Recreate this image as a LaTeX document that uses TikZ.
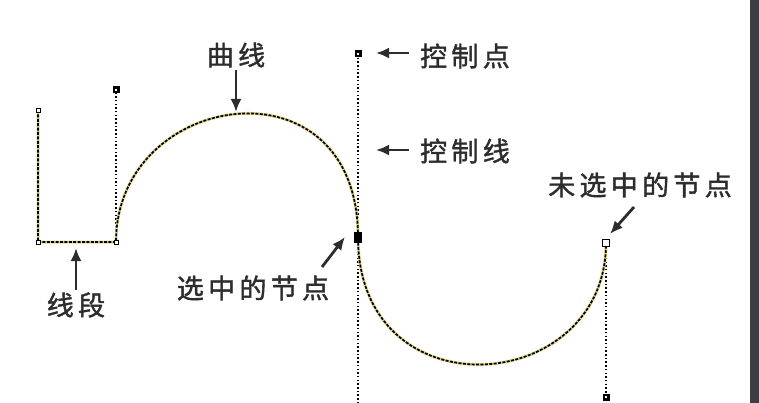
\documentclass[tikz,border=0pt]{standalone}
\usepackage{fontspec}
\newfontfamily\cjk[LetterSpace=16,FakeBold=1.5]{Noto Sans CJK SC}
\usepackage{tikz}
\usetikzlibrary{arrows.meta}
\definecolor{barcolor}{RGB}{60,62,68}
\definecolor{textcolor}{RGB}{45,45,45}
\definecolor{pathyellow}{RGB}{225,216,150}
\tikzset{
    seg under/.style={line width=3pt, draw=pathyellow},
    seg/.style={line width=1.7pt, dash pattern=on 3pt off 1.4pt},
    ctrl line/.style={line width=1.2pt, dash pattern=on 1.5pt off 2.2pt},
    ctrl pt/.style={shape=rectangle, draw=black, fill=white, line width=2.6pt, minimum size=4.4pt, inner sep=0pt},
    sel node/.style={shape=rectangle, fill=black, minimum width=8pt, minimum height=11pt, inner sep=0pt},
    free node/.style={shape=rectangle, draw=black, fill=white, line width=1.2pt, minimum size=6.5pt, inner sep=0pt},
    end node/.style={shape=rectangle, draw=black, fill=white, line width=0.8pt, minimum size=4pt, inner sep=0pt},
    lbl/.style={text=textcolor, font=\cjk\fontsize{27}{30}\selectfont, inner sep=2pt},
    lbl arrow/.style={-{Latex[length=13pt,width=11pt]}, line width=2.8pt, draw=textcolor}}

\begin{document}
\begin{tikzpicture}[x=1pt, y=-1pt]

            \clip (0,0) rectangle (759,403);
            \fill[white] (0,0) rectangle (759,403);
            \fill[barcolor] (750,0) rectangle (759,403);

            \coordinate (P1) at (38,110);
            \coordinate (P2) at (38,242);
            \coordinate (P3) at (116,242);
            \coordinate (P4) at (358,237);
            \coordinate (P5) at (606,243);
            \coordinate (K1) at (116,90);
            \coordinate (K2) at (358,54);
            \coordinate (K3) at (358,415);
            \coordinate (K4) at (606,397);

            \draw[ctrl line] (P3) -- (K1);
            \draw[ctrl line] (K2) -- (P4) -- (K3);
            \draw[ctrl line] (P5) -- (K4);

            \draw[seg under] (P1) -- (P2) -- (P3) .. controls (K1) and (K2) .. (P4) .. controls (K3) and (K4) .. (P5);
            \draw[seg] (P1) -- (P2) -- (P3) .. controls (K1) and (K2) .. (P4) .. controls (K3) and (K4) .. (P5);

            \node[end node] (N1) at (P1) {};
            \node[end node] (N2) at (P2) {};
            \node[end node] (N3) at (P3) {};
            \node[sel node] (N4) at (P4) {};
            \node[free node] (N5) at (P5) {};
            \node[ctrl pt] (C1) at (K1) {};
            \node[ctrl pt] (C2) at (K2) {};
            \node[ctrl pt] (C4) at (K4) {};

            \node[lbl] (Lqx) at (236,55) {曲线};
            \node[lbl] (Lkzd) at (465,56) {控制点};
            \node[lbl] (Lkzx) at (465,151) {控制线};
            \node[lbl] (Lxz) at (253,288) {选中的节点};
            \node[lbl] (Lwxz) at (640,185) {未选中的节点};
            \node[lbl] (Lxd) at (76,305) {线段};

            \coordinate (Tqx) at (236,112);
            \coordinate (Tkzd) at (376,53);
            \coordinate (Tkzx) at (376,150);
            \coordinate (Sxz) at (322,267);
            \coordinate (Txz) at (345,237);
            \coordinate (Swxz) at (634,207);
            \coordinate (Twxz) at (610,234);
            \coordinate (Txd) at (76,248);

            \draw[lbl arrow] (Lqx.south) -- (Tqx);
            \draw[lbl arrow, shorten <=9pt] (Lkzd.west |- Tkzd) -- (Tkzd);
            \draw[lbl arrow, shorten <=9pt] (Lkzx.west |- Tkzx) -- (Tkzx);
            \draw[lbl arrow] (Sxz) -- (Txz);
            \draw[lbl arrow] (Swxz) -- (Twxz);
            \draw[lbl arrow] (Lxd.north) -- (Txd);

\end{tikzpicture}
\end{document}
